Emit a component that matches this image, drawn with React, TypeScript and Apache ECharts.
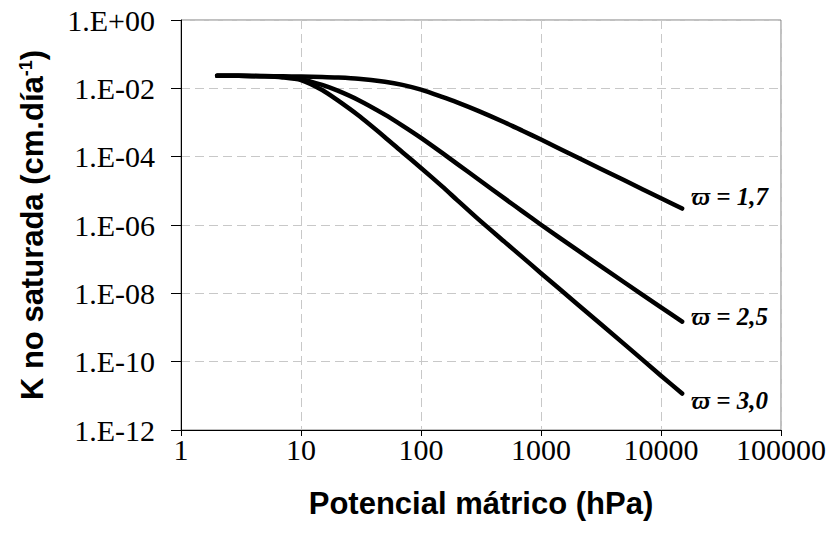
import React, { useEffect, useRef } from "react";
import * as echarts from "echarts";

// Potencial mátrico (hPa)
const potential = [2, 3, 5, 7, 10, 15, 20, 30, 50, 70, 100, 150, 200, 300, 500, 700, 1000, 2000, 5000, 10000, 15000];
// K no saturada (cm.día-1)
const k17 = [2.34e-2, 2.32e-2, 2.29e-2, 2.26e-2, 2.21e-2, 2.14e-2, 2.07e-2, 1.91e-2, 1.55e-2, 1.26e-2, 9.12e-3, 5.62e-3, 3.89e-3, 2.19e-3, 1.0e-3, 5.75e-4, 3.16e-4, 9.55e-5, 2.0e-5, 6.03e-6, 3.02e-6];
const k25 = [2.34e-2, 2.32e-2, 2.26e-2, 2.19e-2, 1.86e-2, 1.26e-2, 8.71e-3, 4.57e-3, 1.7e-3, 8.13e-4, 3.55e-4, 1.29e-4, 6.17e-5, 2.19e-5, 5.89e-6, 2.51e-6, 1.02e-6, 1.86e-7, 2.04e-8, 3.89e-9, 1.48e-9];
const k30 = [2.34e-2, 2.32e-2, 2.24e-2, 2.09e-2, 1.74e-2, 8.91e-3, 4.57e-3, 1.62e-3, 3.72e-4, 1.35e-4, 4.68e-5, 1.35e-5, 5.37e-6, 1.48e-6, 3.16e-7, 1.15e-7, 3.89e-8, 4.9e-9, 3.16e-10, 3.89e-11, 1.17e-11];

const seriesNames = ["ϖ = 1,7", "ϖ = 2,5", "ϖ = 3,0"];
const xTickLabels = ["1", "10", "100", "1000", "10000", "100000"];
const yTickLabels = ["1.E-12", "1.E-10", "1.E-08", "1.E-06", "1.E-04", "1.E-02", "1.E+00"];

export default function App() {
  const ref = useRef<HTMLDivElement>(null);

  useEffect(() => {
    const chart = echarts.init(ref.current!, null, { renderer: "svg" });
    const serif = '"Liberation Serif", "Times New Roman", "DejaVu Serif", serif';
    const sans = '"Liberation Sans", Arial, sans-serif';

    const offsets: [number, number][] = [
      [9, -12],
      [9, -5],
      [9, 7],
    ];
    const values = [k17, k25, k30];

    const series = values.map((vals, s) => ({
      type: "line",
      name: seriesNames[s],
      data: potential.map((x, i) => [x, vals[i]]),
      smooth: 0.25,
      symbol: "none",
      showSymbol: false,
      lineStyle: { color: "#000", width: 4.5, cap: "round", join: "round" },
      endLabel: {
        show: true,
        formatter: seriesNames[s],
        color: "#000",
        fontFamily: serif,
        fontWeight: "bold",
        fontStyle: "italic",
        fontSize: 25,
        distance: 0,
        offset: offsets[s],
        align: "left",
        verticalAlign: "middle",
      },
      emphasis: { disabled: true },
    }));

    chart.setOption({
      animation: false,
      backgroundColor: "#fff",
      grid: {
        left: 181,
        right: 52,
        top: 20,
        bottom: 120,
        show: true,
        borderColor: "#808080",
        borderWidth: 1,
        backgroundColor: "transparent",
      },
      xAxis: {
        type: "log",
        logBase: 10,
        min: 1,
        max: 100000,
        name: "Potencial mátrico (hPa)",
        nameLocation: "middle",
        nameGap: 58,
        nameTextStyle: { fontFamily: sans, fontWeight: "bold", fontSize: 31, color: "#000" },
        axisLine: { show: true, lineStyle: { color: "#000", width: 1 } },
        axisTick: { show: true, inside: false, length: 6, lineStyle: { color: "#000" } },
        minorTick: { show: false },
        axisLabel: {
          fontFamily: serif,
          fontSize: 30,
          color: "#000",
          margin: 4,
          formatter: (v: number) => xTickLabels[Math.round(Math.log10(v))] ?? "",
        },
        splitLine: { show: true, lineStyle: { color: "#c8c8c8", width: 1, type: [9, 5] } },
      },
      yAxis: {
        type: "log",
        logBase: 10,
        min: 1e-12,
        max: 1,
        interval: 2,
        name: "{b|K no saturada (cm.día}{s|-1}{b|)}",
        nameLocation: "middle",
        nameGap: 133,
        nameTextStyle: {
          color: "#000",
          rich: {
            b: { fontFamily: sans, fontWeight: "bold", fontSize: 31, color: "#000" },
            s: { fontFamily: sans, fontWeight: "bold", fontSize: 18, color: "#000", verticalAlign: "top" },
          },
        },
        axisLine: { show: true, lineStyle: { color: "#000", width: 1 } },
        axisTick: { show: true, inside: false, length: 10, lineStyle: { color: "#000" } },
        minorTick: { show: false },
        axisLabel: {
          fontFamily: serif,
          fontSize: 30,
          color: "#000",
          margin: 26,
          formatter: (v: number) => {
            const e = Math.round(Math.log10(v));
            return yTickLabels[(e + 12) / 2] ?? "";
          },
        },
        splitLine: { show: true, lineStyle: { color: "#c8c8c8", width: 1, type: [9, 5] } },
      },
      series,
    });

    return () => chart.dispose();
  }, []);

  return (
    <div
      ref={ref}
      style={{ position: "absolute", left: 0, top: 0, width: 833, height: 550, background: "#fff" }}
    />
  );
}
